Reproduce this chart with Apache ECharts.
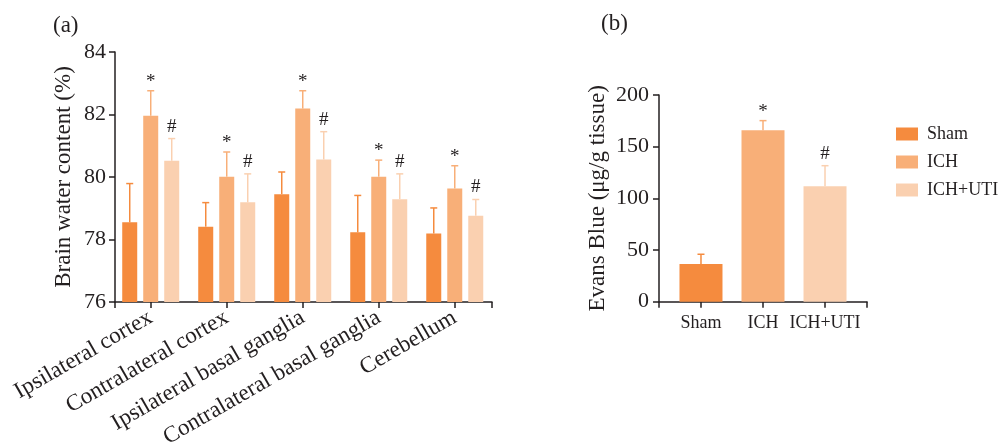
<!DOCTYPE html>
<html>
<head>
<meta charset="utf-8">
<script src="https://cdn.jsdelivr.net/npm/echarts@6.0.0/dist/echarts.min.js"></script>
<style>
  body { margin: 0; background: #fff; }
  #chart { width: 1003px; height: 446px; }
</style>
</head>
<body>
<div id="chart"></div>
<script>
// panel (a) data
const regions = ['Ipsilateral cortex', 'Contralateral cortex', 'Ipsilateral basal ganglia', 'Contralateral basal ganglia', 'Cerebellum'];
const groups = ['Sham', 'ICH', 'ICH+UTI'];
const shamWater = [78.55, 78.41, 79.45, 78.23, 78.19];
const shamWaterErr = [1.24, 0.77, 0.71, 1.18, 0.82];
const ichWater = [81.96, 80.01, 82.19, 80.01, 79.63];
const ichWaterErr = [0.80, 0.79, 0.57, 0.53, 0.73];
const utiWater = [80.52, 79.19, 80.56, 79.29, 78.76];
const utiWaterErr = [0.71, 0.91, 0.89, 0.81, 0.52];
const waterTicks = [76, 78, 80, 82, 84];
// panel (b) data
const evansBlue = [36.5, 165.8, 111.7];
const evansBlueErr = [9.4, 9.4, 19.9];
const evansTicks = [0, 50, 100, 150, 200];
// significance marks per group
const marks = ['', '*', '#'];

const colors = ['#F58B3E', '#F8AF78', '#FAD0B0'];
const ink = '#231f20';
const serif = 'Liberation Serif';

const waterVals = [shamWater, ichWater, utiWater];
const waterErrs = [shamWaterErr, ichWaterErr, utiWaterErr];

function errorBars(offset, color, mark) {
    return function (params, api) {
        const x = api.value(0), v = api.value(1), e = api.value(2);
        const base = api.coord([x, v]);
        const top = api.coord([x, v + e]);
        const cx = base[0] + offset;
        const kids = [
            {type: 'line', shape: {x1: cx, y1: base[1], x2: cx, y2: top[1]}, style: {stroke: color, lineWidth: 1.5}},
            {type: 'line', shape: {x1: cx - 3.5, y1: top[1], x2: cx + 3.5, y2: top[1]}, style: {stroke: color, lineWidth: 1.5}}
        ];
        if (mark) {
            kids.push({
                type: 'text',
                style: {
                    text: mark, x: cx, y: top[1] - (mark === '*' ? 9 : 12),
                    align: 'center', verticalAlign: 'middle',
                    font: '19px "' + serif + '"', fill: ink
                }
            });
        }
        return {type: 'group', children: kids};
    };
}

const axisLine = {show: true, onZero: false, lineStyle: {color: ink, width: 1.5}};
const axisTickBase = {show: true, length: 6, lineStyle: {color: ink, width: 1.5}};

const series = [];
groups.forEach(function (g, k) {
    series.push({
        name: g, type: 'bar', xAxisIndex: 0, yAxisIndex: 0,
        barWidth: 15, barGap: '40%',
        itemStyle: {color: colors[k]},
        data: waterVals[k].map(function (v, i) { return [i, v]; })
    });
});
groups.forEach(function (g, k) {
    series.push({
        type: 'custom', xAxisIndex: 0, yAxisIndex: 0, z: 5,
        renderItem: errorBars((k - 1) * 21, colors[k], marks[k]),
        data: waterVals[k].map(function (v, i) { return [i, v, waterErrs[k][i]]; })
    });
});
series.push({
    type: 'bar', xAxisIndex: 1, yAxisIndex: 1, barWidth: 43,
    data: evansBlue.map(function (v, i) { return {value: [i, v], itemStyle: {color: colors[i]}}; })
});
evansBlue.forEach(function (v, i) {
    series.push({
        type: 'custom', xAxisIndex: 1, yAxisIndex: 1, z: 5,
        renderItem: errorBars(0, colors[i], marks[i]),
        data: [[i, v, evansBlueErr[i]]]
    });
});

const chart = echarts.init(document.getElementById('chart'));
chart.setOption({
    animation: false,
    textStyle: {fontFamily: serif, color: ink},
    graphic: [
        {type: 'text', left: 53, top: 14, style: {text: '(a)', font: '23px "' + serif + '"', fill: ink}},
        {type: 'text', left: 601, top: 12, style: {text: '(b)', font: '23px "' + serif + '"', fill: ink}}
    ],
    legend: {
        data: groups, orient: 'vertical', left: 896, top: 125, padding: 0,
        itemWidth: 22, itemHeight: 13, itemGap: 10, icon: 'rect',
        textStyle: {fontFamily: serif, fontSize: 18, color: ink, padding: [0, 0, 0, 4]}
    },
    grid: [
        {left: 115, top: 52, width: 377, height: 250, outerBoundsMode: 'none'},
        {left: 659, top: 95, width: 208, height: 206.7, outerBoundsMode: 'none'}
    ],
    xAxis: [{
        type: 'value', gridIndex: 0, min: -0.47, max: 4.49,
        splitLine: {show: false}, axisLine: axisLine,
        axisTick: Object.assign({customValues: [-0.47, 0, 1, 2, 3, 4, 4.49]}, axisTickBase),
        axisLabel: {
            customValues: [0, 1, 2, 3, 4], rotate: 30, margin: 14,
            fontFamily: serif, fontSize: 23, color: ink,
            formatter: function (v) { return regions[Math.round(v)]; }
        }
    }, {
        type: 'value', gridIndex: 1, min: -0.677, max: 2.677,
        splitLine: {show: false}, axisLine: axisLine,
        axisTick: Object.assign({customValues: [-0.677, 0, 1, 2, 2.677]}, axisTickBase),
        axisLabel: {
            customValues: [0, 1, 2], margin: 13,
            fontFamily: serif, fontSize: 18, color: ink,
            formatter: function (v) { return groups[Math.round(v)]; }
        }
    }],
    yAxis: [{
        type: 'value', gridIndex: 0, min: waterTicks[0], max: waterTicks[waterTicks.length - 1], interval: 2,
        name: 'Brain water content (%)', nameLocation: 'middle', nameGap: 40,
        nameTextStyle: {fontFamily: serif, fontSize: 23, color: ink},
        splitLine: {show: false}, axisLine: axisLine, axisTick: axisTickBase,
        axisLabel: {margin: 9, fontFamily: serif, fontSize: 22, color: ink}
    }, {
        type: 'value', gridIndex: 1, min: evansTicks[0], max: evansTicks[evansTicks.length - 1], interval: 50,
        name: 'Evans Blue (μg/g tissue)', nameLocation: 'middle', nameGap: 50,
        nameTextStyle: {fontFamily: serif, fontSize: 23, color: ink},
        splitLine: {show: false}, axisLine: axisLine, axisTick: axisTickBase,
        axisLabel: {margin: 10, fontFamily: serif, fontSize: 22, color: ink}
    }],
    series: series
});
</script>
</body>
</html>
